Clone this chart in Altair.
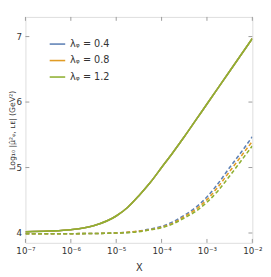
import altair as alt
import pandas as pd

# ---- data ----
series = ["λᵩ = 0.4", "λᵩ = 0.8", "λᵩ = 1.2"]
colors = ["#5E81B5", "#E19C24", "#8FB032"]

x_solid = [1e-7, 10**-6.5, 1e-6, 10**-5.5, 1e-5, 10**-4.75, 10**-4.5, 10**-4.25,
           1e-4, 10**-3.75, 10**-3.5, 10**-3.25, 1e-3, 10**-2.5, 1e-2]
y_solid = [4.02, 4.03, 4.05, 4.11, 4.26, 4.39, 4.57, 4.77,
           5.00, 5.23, 5.47, 5.72, 5.97, 6.47, 6.97]

x_dash = [1e-7, 1e-6, 1e-5, 10**-4.5, 10**-4.25, 1e-4, 10**-3.75, 10**-3.5,
          10**-3.25, 1e-3, 10**-2.75, 10**-2.5, 10**-2.25, 1e-2]
y_dash_04 = [3.99, 3.99, 4.00, 4.03, 4.06, 4.10, 4.17, 4.27, 4.39, 4.55, 4.76, 5.00, 5.23, 5.47]
y_dash_08 = [3.99, 3.99, 4.00, 4.03, 4.05, 4.09, 4.15, 4.25, 4.36, 4.51, 4.71, 4.94, 5.17, 5.40]
y_dash_12 = [3.99, 3.99, 4.00, 4.02, 4.05, 4.08, 4.14, 4.23, 4.33, 4.47, 4.65, 4.87, 5.10, 5.33]

x_ticks = [1e-7, 1e-6, 1e-5, 1e-4, 1e-3, 1e-2]
x_tick_labels = ["10⁻⁷", "10⁻⁶", "10⁻⁵", "10⁻⁴", "10⁻³", "10⁻²"]
y_ticks = [4, 5, 6, 7]

W, H = 234, 233
FONT = "DejaVu Sans"
TXT = "#333333"
FRAME = "#9a9a9a"

solid_rows = []
for s in series:
    for xv, yv in zip(x_solid, y_solid):
        solid_rows.append({"x": xv, "y": yv, "s": s})
dash_rows = []
for s, ys in zip(series, [y_dash_04, y_dash_08, y_dash_12]):
    for xv, yv in zip(x_dash, ys):
        dash_rows.append({"x": xv, "y": yv, "s": s})

label_expr = ""
for tv, tl in zip(x_ticks[:-1], x_tick_labels[:-1]):
    label_expr += f"datum.value < {tv * 3} ? '{tl}' : "
label_expr += f"'{x_tick_labels[-1]}'"

xscale = alt.Scale(type="log", domain=[1e-7, 1e-2], nice=False)
yscale = alt.Scale(domain=[3.85, 7.3], nice=False, zero=False)
cscale = alt.Scale(domain=series, range=colors)

xaxis = alt.Axis(values=x_ticks, labelExpr=label_expr, grid=False, domain=False,
                 ticks=False, labelPadding=4, labelFontSize=9, labelFont=FONT,
                 labelColor=TXT, title="X", titleFont=FONT, titleFontSize=10,
                 titleFontWeight="normal", titleColor=TXT, titlePadding=8,
                 labelFlush=False)
yaxis = alt.Axis(values=y_ticks, format="d", grid=False, domain=False, ticks=False,
                 labelPadding=4, labelFontSize=9, labelFont=FONT, labelColor=TXT,
                 title="Log₁₀ |μ̂²ᵩ, ʟᴇ| (GeV²)", titleFont=FONT, titleFontSize=8,
                 titleFontWeight="normal", titleColor=TXT,
                 titleX=-13, titleY=H / 2, titleAngle=270, titleAlign="center",
                 titleBaseline="middle")

solid = alt.Chart(pd.DataFrame(solid_rows)).mark_line(
    strokeWidth=1.6, interpolate="monotone", clip=True
).encode(
    x=alt.X("x:Q", scale=xscale, axis=xaxis),
    y=alt.Y("y:Q", scale=yscale, axis=yaxis),
    color=alt.Color("s:N", scale=cscale, sort=series, legend=alt.Legend(
        title=None, orient="none", legendX=24, legendY=19, symbolType="stroke",
        symbolSize=256, symbolStrokeWidth=1.6, labelFontSize=10, labelFont=FONT,
        labelColor=TXT, rowPadding=3, padding=0, labelOffset=4)),
)

dashed = alt.Chart(pd.DataFrame(dash_rows)).mark_line(
    strokeWidth=1.6, strokeDash=[4, 2.5], interpolate="monotone", clip=True
).encode(
    x=alt.X("x:Q", scale=xscale),
    y=alt.Y("y:Q", scale=yscale),
    color=alt.Color("s:N", scale=cscale, legend=None),
)

xt = pd.DataFrame({"x": x_ticks})
yt = pd.DataFrame({"y": y_ticks})
tick_style = dict(color=FRAME, strokeWidth=1)
xt_bot = alt.Chart(xt).mark_rule(**tick_style).encode(
    x=alt.X("x:Q", scale=xscale), y=alt.value(H), y2=alt.value(H - 4))
xt_top = alt.Chart(xt).mark_rule(**tick_style).encode(
    x=alt.X("x:Q", scale=xscale), y=alt.value(0), y2=alt.value(4))
yt_l = alt.Chart(yt).mark_rule(**tick_style).encode(
    y=alt.Y("y:Q", scale=yscale), x=alt.value(0), x2=alt.value(4))
yt_r = alt.Chart(yt).mark_rule(**tick_style).encode(
    y=alt.Y("y:Q", scale=yscale), x=alt.value(W), x2=alt.value(W - 4))

chart = alt.layer(xt_bot, xt_top, yt_l, yt_r, dashed, solid).resolve_scale(
    color="independent"
).properties(
    width=W, height=H,
    padding={"left": 18, "top": 5, "right": 11, "bottom": 30},
    autosize=alt.AutoSizeParams(type="none"),
).configure_view(stroke=FRAME, strokeWidth=1.2).configure(background="white")

chart.save("out.html", embed_options={"renderer": "svg", "actions": False})
